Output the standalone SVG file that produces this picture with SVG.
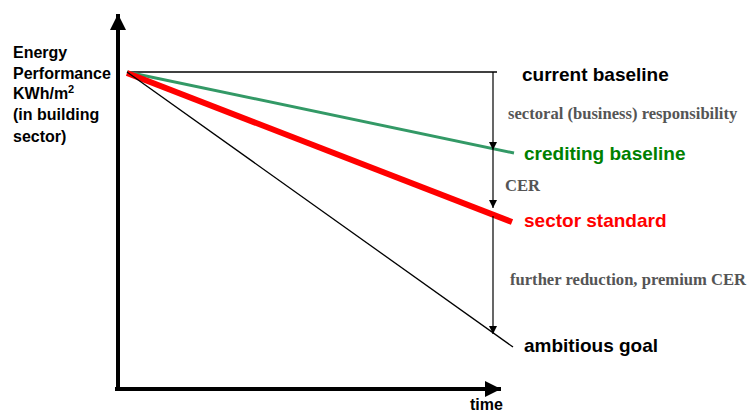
<svg xmlns="http://www.w3.org/2000/svg" width="749" height="412" viewBox="0 0 749 412">
<style>
.lab{font-family:"Liberation Sans",Arial,sans-serif;font-weight:bold;font-size:19px}
.note{font-family:"Liberation Serif","Times New Roman",serif;font-weight:bold;font-size:16.6px;fill:#555}
.ax{font-family:"Liberation Sans",Arial,sans-serif;font-weight:bold;font-size:16px}
</style>
<defs>
<marker id="ah" viewBox="0 0 10 10" refX="10" refY="5" markerWidth="8" markerHeight="8" markerUnits="userSpaceOnUse" orient="auto"><path d="M0,0L10,5L0,10z" fill="#000"/></marker>
<marker id="big" viewBox="0 0 10 10" refX="10" refY="5" markerWidth="4" markerHeight="4" orient="auto"><path d="M0,0L10,5L0,10z" fill="#000"/></marker>
</defs>
<g id="axes">
<line x1="118" y1="390" x2="118" y2="14" stroke="#000" stroke-width="4" marker-end="url(#big)"/>
<line x1="115" y1="389" x2="501" y2="389" stroke="#000" stroke-width="4" marker-end="url(#big)"/>
</g>
<g id="lines">
<line x1="127" y1="72" x2="497" y2="72" stroke="#000" stroke-width="1.3"/>
<line x1="127" y1="72" x2="514" y2="153" stroke="#339966" stroke-width="3"/>
<line x1="127" y1="73" x2="512" y2="222" stroke="#ff0000" stroke-width="6"/>
<line x1="127" y1="72" x2="513" y2="347" stroke="#000" stroke-width="1.3"/>
</g>
<g id="connectors" stroke="#000" stroke-width="1.2">
<line x1="493" y1="72" x2="493" y2="150" marker-end="url(#ah)"/>
<line x1="493" y1="150" x2="493" y2="208" marker-end="url(#ah)"/>
<line x1="493" y1="216" x2="493" y2="334" marker-end="url(#ah)"/>
</g>
<g id="labels">
<text class="lab" x="522" y="81">current baseline</text>
<text class="note" x="508" y="119">sectoral (business) responsibility</text>
<text class="lab" x="524" y="160" fill="#008000">crediting baseline</text>
<text class="note" x="505" y="191">CER</text>
<text class="lab" x="524" y="227" fill="#ff0000">sector standard</text>
<text class="note" x="510" y="285">further reduction, premium CER</text>
<text class="lab" x="524" y="352">ambitious goal</text>
<text class="ax" x="470" y="410">time</text>
</g>
<g id="ylabel" class="ax">
<text x="13" y="58">Energy</text>
<text x="13" y="79">Performance</text>
<text x="13" y="99">KWh/m<tspan dy="-6" font-size="11">2</tspan></text>
<text x="13" y="120">(in building</text>
<text x="13" y="142">sector)</text>
</g>
</svg>
